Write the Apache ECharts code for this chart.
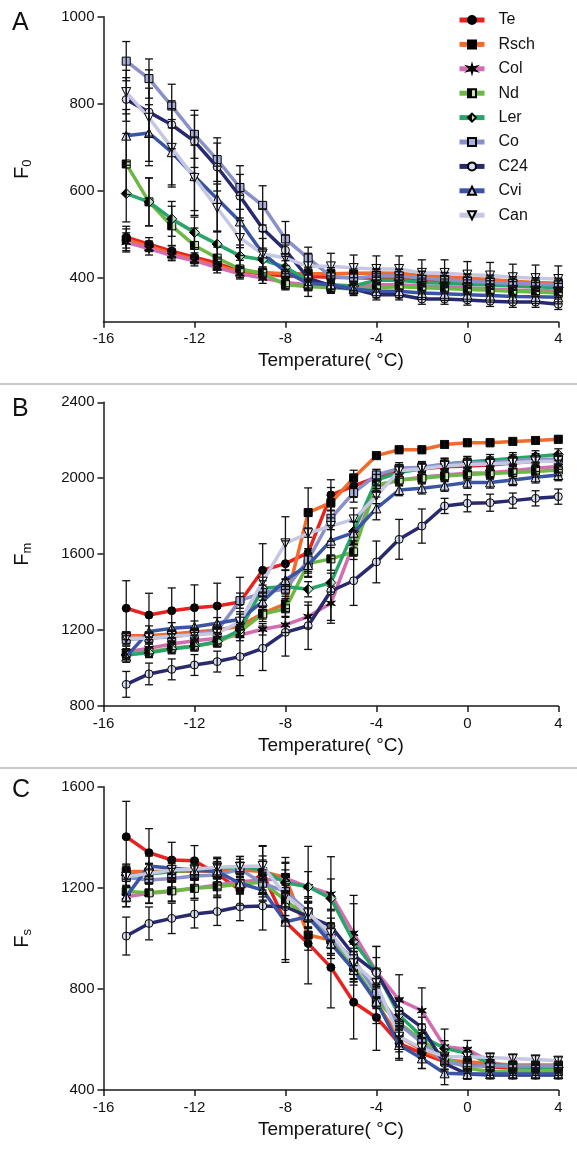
<!DOCTYPE html>
<html>
<head>
<meta charset="utf-8">
<script src="https://cdn.jsdelivr.net/npm/echarts@6/dist/echarts.min.js"></script>
<style>
html,body{margin:0;padding:0;background:#fff;}
#chart{width:577px;height:1153px;}
</style>
</head>
<body>
<div id="chart"></div>
<script>
// ---------- DATA ----------
const temps = [-15,-14,-13,-12,-11,-10,-9,-8,-7,-6,-5,-4,-3,-2,-1,0,1,2,3,4];
const seriesNames = ['Te','Rsch','Col','Nd','Ler','Co','C24','Cvi','Can'];
const xTicks = [-16,-12,-8,-4,0,4];

// Panel A : F0
const F0_Te   = [494,478,462,448,434,416,410,405,404,402,401,400,398,396,394,392,390,388,386,384];
const F0_Rsch = [488,473,456,443,428,415,413,410,410,410,411,412,411,406,403,400,397,393,390,388];
const F0_Col  = [482,468,452,440,424,410,400,390,385,380,378,385,385,382,380,378,375,373,372,370];
const F0_Nd   = [662,575,520,475,446,421,411,385,381,378,375,378,380,378,376,374,372,370,368,366];
const F0_Ler  = [594,575,536,505,478,451,442,425,395,385,382,395,395,390,388,386,384,382,380,378];
const F0_Co   = [898,858,795,730,672,608,567,490,446,404,400,405,405,400,397,393,390,388,386,385];
const F0_C24  = [810,781,752,714,655,588,514,464,400,382,375,362,362,352,352,350,347,345,345,340];
const F0_Cvi  = [727,733,689,634,582,530,457,415,388,385,375,370,370,366,364,362,360,358,357,356];
const F0_Can  = [827,768,699,630,561,492,456,446,427,427,423,421,421,412,412,408,406,402,400,398];

const F0e_Te   = [25,15,12,10,10,10,10,10,10,10,10,10,10,10,10,10,10,10,10,10];
const F0e_Rsch = [25,12,12,10,10,10,10,10,10,10,10,10,10,10,10,10,10,10,10,10];
const F0e_Col  = [22,15,12,12,12,12,12,10,12,10,10,10,10,10,10,10,10,10,10,10];
const F0e_Nd   = [70,55,45,40,25,20,15,12,10,10,10,10,10,10,10,10,10,10,10,10];
const F0e_Ler  = [65,55,40,35,30,25,20,15,12,10,10,10,10,10,10,10,10,10,10,10];
const F0e_Co   = [45,45,50,55,50,50,45,40,25,20,15,15,15,15,15,15,15,15,15,15];
const F0e_C24  = [50,55,55,60,55,50,45,35,25,15,12,12,12,12,12,12,12,12,12,12];
const F0e_Cvi  = [60,65,75,90,75,60,50,40,30,20,15,15,15,15,15,15,15,15,15,15];
const F0e_Can  = [50,110,90,75,55,40,35,30,30,30,30,30,30,30,30,30,30,30,30,30];

// Panel B : Fm
const Fm_Te   = [1315,1279,1302,1318,1327,1348,1515,1550,1608,1912,1959,2005,2040,2050,2060,2065,2070,2080,2090,2100];
const Fm_Rsch = [1170,1170,1180,1190,1200,1220,1288,1338,1819,1871,2002,2119,2150,2150,2178,2187,2187,2194,2199,2205];
const Fm_Col  = [1085,1104,1127,1144,1157,1174,1204,1227,1271,1341,1657,1956,1991,2005,2017,2026,2029,2040,2052,2062];
const Fm_Nd   = [1077,1085,1104,1116,1135,1192,1285,1312,1550,1575,1612,1965,1990,2000,2012,2020,2025,2030,2036,2043];
const Fm_Ler  = [1069,1080,1100,1115,1140,1200,1420,1430,1415,1450,1720,1990,2030,2050,2075,2085,2095,2105,2115,2125];
const Fm_Co   = [1151,1157,1165,1179,1197,1355,1397,1416,1569,1789,1924,2017,2052,2058,2075,2082,2082,2093,2100,2100];
const Fm_C24  = [914,969,993,1016,1034,1060,1104,1188,1223,1406,1460,1559,1678,1748,1854,1868,1871,1882,1894,1903];
const Fm_Cvi  = [1060,1192,1209,1218,1236,1257,1350,1464,1543,1671,1713,1841,1938,1947,1961,1977,1978,1991,2005,2017];
const Fm_Can  = [1157,1157,1169,1174,1183,1244,1455,1657,1710,1748,1783,1906,2040,2050,2065,2072,2075,2082,2088,2090];

const Fme_Te   = [145,115,120,120,120,130,140,120,130,80,60,40,30,30,30,30,30,30,30,30];
const Fme_Rsch = [20,20,20,20,20,20,30,40,130,80,40,20,20,20,20,20,20,20,20,20];
const Fme_Col  = [30,30,30,30,30,30,30,40,60,90,60,30,30,30,30,30,30,30,30,30];
const Fme_Nd   = [25,25,25,25,25,30,40,40,50,60,40,30,30,30,30,30,30,30,30,30];
const Fme_Ler  = [25,25,25,25,25,30,40,40,40,50,50,30,30,30,30,30,30,30,30,30];
const Fme_Co   = [30,30,30,30,30,40,40,50,60,60,50,30,30,30,30,30,30,30,30,30];
const Fme_C24  = [68,57,55,55,55,100,117,125,125,170,130,110,105,90,40,45,45,40,40,40];
const Fme_Cvi  = [30,30,30,30,30,40,50,50,60,80,60,60,30,30,30,30,30,30,30,30];
const Fme_Can  = [30,30,30,30,30,40,60,140,100,80,60,40,30,30,30,30,30,30,30,30];

// Panel C : Fs
const Fs_Te   = [1402,1339,1310,1307,1255,1191,1257,1065,980,885,747,687,585,545,512,505,492,486,482,482];
const Fs_Rsch = [1264,1264,1265,1265,1265,1270,1264,1241,1013,993,888,743,611,558,519,512,505,499,499,499];
const Fs_Col  = [1165,1178,1185,1198,1211,1224,1231,1237,1204,1175,1020,868,756,714,571,561,512,486,486,486];
const Fs_Nd   = [1185,1180,1188,1198,1204,1215,1222,1150,1080,1000,888,756,664,598,532,486,473,473,473,473];
const Fs_Ler  = [1250,1255,1264,1270,1277,1284,1270,1220,1204,1158,987,868,697,611,565,545,505,492,490,490];
const Fs_Co   = [1241,1231,1237,1247,1251,1273,1218,1185,1105,1000,917,782,661,587,512,495,495,495,495,495];
const Fs_C24  = [1009,1059,1079,1096,1106,1125,1128,1125,1086,1049,934,864,714,648,505,463,459,459,459,459];
const Fs_Cvi  = [1165,1286,1277,1270,1264,1218,1191,1066,1086,980,875,750,578,525,466,463,463,463,463,463];
const Fs_Can  = [1244,1257,1270,1273,1281,1284,1286,1171,1099,1020,901,822,611,565,532,532,529,525,521,516];

const Fse_Te   = [140,95,70,60,60,60,110,160,160,160,145,130,60,60,30,20,15,15,15,15];
const Fse_Rsch = [30,30,30,30,30,30,100,60,60,60,60,80,40,30,20,20,15,15,15,15];
const Fse_Col  = [40,40,40,40,40,40,40,60,60,60,150,100,100,90,70,35,20,20,15,15];
const Fse_Nd   = [40,40,40,40,40,40,40,60,60,60,60,60,50,40,30,20,15,15,15,15];
const Fse_Ler  = [40,40,40,40,40,40,40,100,160,165,150,100,60,50,30,20,15,15,15,15];
const Fse_Co   = [40,40,40,40,40,40,40,60,60,60,60,60,50,40,30,20,15,15,15,15];
const Fse_C24  = [75,65,60,55,55,55,95,60,60,60,60,60,50,40,30,20,15,15,15,15];
const Fse_Cvi  = [40,40,40,40,40,40,40,150,60,60,60,60,60,40,45,20,15,15,15,15];
const Fse_Can  = [40,40,40,40,40,40,40,100,60,60,60,60,60,40,30,20,15,15,15,15];

const yTicksA = [400,600,800,1000];
const yTicksB = [800,1200,1600,2000,2400];
const yTicksC = [400,800,1200,1600];

// ---------- STYLES ----------
const FONT = "'Liberation Sans', Arial, Helvetica, sans-serif";
const lineColors = {
  Te:'#e8231f', Rsch:'#f26b2b', Col:'#d46cb2', Nd:'#6cb844', Ler:'#2aa56a',
  Co:'#8a90c8', C24:'#28296f', Cvi:'#3a55a5', Can:'#c5c7e3'
};
function half(c){ return {type:'linear',x:0,y:0,x2:1,y2:0,colorStops:[
  {offset:0,color:'#000'},{offset:0.5,color:'#000'},{offset:0.5,color:c},{offset:1,color:c}]}; }
const starPath = 'path://M0,-10 L1.75,-3.03 L8.66,-5 L3.5,0 L8.66,5 L1.75,3.03 L0,10 L-1.75,3.03 L-8.66,5 L-3.5,0 L-8.66,-5 L-1.75,-3.03 Z';
const markers = {
  Te:{symbol:'circle', fill:'#000', size:8, rot:0},
  Rsch:{symbol:'rect', fill:'#000', size:8, rot:0},
  Col:{symbol:starPath, fill:'#000', size:9, rot:0},
  Nd:{symbol:'rect', fill:half('#c8e6b0'), size:8, rot:0},
  Ler:{symbol:'diamond', fill:half('#b8e2c8'), size:10, rot:0},
  Co:{symbol:'rect', fill:'#a9aedb', size:8, rot:0},
  C24:{symbol:'circle', fill:'#dcdff2', size:8, rot:0},
  Cvi:{symbol:'triangle', fill:'#d6daf0', size:9, rot:0},
  Can:{symbol:'triangle', fill:'#f2f2fa', size:9, rot:180}
};

const panels = [
  {vals:{Te:F0_Te,Rsch:F0_Rsch,Col:F0_Col,Nd:F0_Nd,Ler:F0_Ler,Co:F0_Co,C24:F0_C24,Cvi:F0_Cvi,Can:F0_Can},
   errs:{Te:F0e_Te,Rsch:F0e_Rsch,Col:F0e_Col,Nd:F0e_Nd,Ler:F0e_Ler,Co:F0e_Co,C24:F0e_C24,Cvi:F0e_Cvi,Can:F0e_Can},
   ymin:300, ymax:1000, ticks:yTicksA, sub:'0', top:16.7, height:305},
  {vals:{Te:Fm_Te,Rsch:Fm_Rsch,Col:Fm_Col,Nd:Fm_Nd,Ler:Fm_Ler,Co:Fm_Co,C24:Fm_C24,Cvi:Fm_Cvi,Can:Fm_Can},
   errs:{Te:Fme_Te,Rsch:Fme_Rsch,Col:Fme_Col,Nd:Fme_Nd,Ler:Fme_Ler,Co:Fme_Co,C24:Fme_C24,Cvi:Fme_Cvi,Can:Fme_Can},
   ymin:800, ymax:2400, ticks:yTicksB, sub:'m', top:402.3, height:303.7},
  {vals:{Te:Fs_Te,Rsch:Fs_Rsch,Col:Fs_Col,Nd:Fs_Nd,Ler:Fs_Ler,Co:Fs_Co,C24:Fs_C24,Cvi:Fs_Cvi,Can:Fs_Can},
   errs:{Te:Fse_Te,Rsch:Fse_Rsch,Col:Fse_Col,Nd:Fse_Nd,Ler:Fse_Ler,Co:Fse_Co,C24:Fse_C24,Cvi:Fse_Cvi,Can:Fse_Can},
   ymin:400, ymax:1600, ticks:yTicksC, sub:'s', top:786.7, height:303.3}
];

const grids = [], xAxes = [], yAxes = [], series = [];
const axisCol = '#1a1a1a';
const plain = v => String(v);
panels.forEach((p, k) => {
  grids.push({left:103.5, top:p.top, width:454.8, height:p.height, outerBoundsMode:'none', containLabel:false});
  xAxes.push({
    type:'value', gridIndex:k, min:-16, max:4, interval:4,
    axisLine:{show:true, onZero:false, lineStyle:{color:axisCol, width:1.5}},
    axisTick:{show:true, length:6, inside:false, lineStyle:{color:axisCol, width:1.5}, customValues:xTicks},
    axisLabel:{show:true, fontSize:15, color:'#111', fontFamily:FONT, margin:10, customValues:xTicks, formatter:plain},
    splitLine:{show:false},
    name:'Temperature( \u00b0C)', nameLocation:'middle', nameGap:30,
    nameTextStyle:{fontSize:19, color:'#111', fontFamily:FONT}
  });
  yAxes.push({
    type:'value', gridIndex:k, min:p.ymin, max:p.ymax,
    axisLine:{show:true, onZero:false, lineStyle:{color:axisCol, width:1.5}},
    axisTick:{show:true, length:6, inside:false, lineStyle:{color:axisCol, width:1.5}, customValues:p.ticks},
    axisLabel:{show:true, fontSize:15, color:'#111', fontFamily:FONT, margin:9, customValues:p.ticks, formatter:plain},
    splitLine:{show:false},
    name:'{f|F}{s|' + p.sub + '}', nameLocation:'middle', nameGap:70, nameRotate:90,
    nameTextStyle:{color:'#111', fontFamily:FONT, rich:{
      f:{fontSize:20, fontFamily:FONT, color:'#111'},
      s:{fontSize:13, fontFamily:FONT, color:'#111', verticalAlign:'bottom', padding:[9,0,0,0]}
    }}
  });
  seriesNames.forEach((nm, j) => {
    const m = markers[nm];
    series.push({
      type:'line', name:nm, xAxisIndex:k, yAxisIndex:k,
      data: temps.map((t,i) => [t, p.vals[nm][i]]),
      symbol:m.symbol, symbolSize:m.size, symbolRotate:m.rot, showSymbol:true,
      lineStyle:{color:lineColors[nm], width:3.5},
      itemStyle:{color:m.fill, borderColor:'#000', borderWidth:1},
      z:2+j*0.01, silent:true, animation:false
    });
  });
  const eb = [];
  seriesNames.forEach(nm => {
    temps.forEach((t,i) => {
      const v = p.vals[nm][i], e = p.errs[nm][i];
      eb.push([t, v - e, v + e]);
    });
  });
  series.push({
    type:'custom', xAxisIndex:k, yAxisIndex:k, data:eb, z:4, silent:true, animation:false,
    encode:{x:0, y:[1,2]},
    renderItem:(params, api) => {
      const x = api.value(0), lo = api.value(1), hi = api.value(2);
      const a = api.coord([x, lo]), b = api.coord([x, hi]);
      const w = 4, st = {stroke:'#111', lineWidth:1.3};
      return {type:'group', children:[
        {type:'line', shape:{x1:a[0], y1:a[1], x2:b[0], y2:b[1]}, style:st},
        {type:'line', shape:{x1:a[0]-w, y1:a[1], x2:a[0]+w, y2:a[1]}, style:st},
        {type:'line', shape:{x1:b[0]-w, y1:b[1], x2:b[0]+w, y2:b[1]}, style:st}
      ]};
    }
  });
});

const chart = echarts.init(document.getElementById('chart'), null, {renderer:'canvas'});
chart.setOption({
  backgroundColor:'#fff',
  animation:false,
  textStyle:{fontFamily:FONT},
  grid:grids, xAxis:xAxes, yAxis:yAxes, series:series,
  legend:{
    show:true, orient:'vertical', left:452, top:7,
    data:seriesNames,
    itemWidth:25, itemHeight:10, itemGap:8.4,
    lineStyle:{width:5},
    textStyle:{fontSize:16, color:'#111', fontFamily:FONT, lineHeight:16, padding:[0,0,0,9]},
    selectedMode:false
  },
  graphic:[
    {type:'text', left:12, top:11, style:{text:'A', fontSize:25, fill:'#111', fontFamily:FONT}},
    {type:'text', left:12, top:397, style:{text:'B', fontSize:25, fill:'#111', fontFamily:FONT}},
    {type:'text', left:12, top:778, style:{text:'C', fontSize:25, fill:'#111', fontFamily:FONT}},
    {type:'line', shape:{x1:0, y1:384, x2:577, y2:384}, style:{stroke:'#b8b8b8', lineWidth:1.5}},
    {type:'line', shape:{x1:0, y1:768, x2:577, y2:768}, style:{stroke:'#b8b8b8', lineWidth:1.5}}
  ]
});
</script>
</body>
</html>
